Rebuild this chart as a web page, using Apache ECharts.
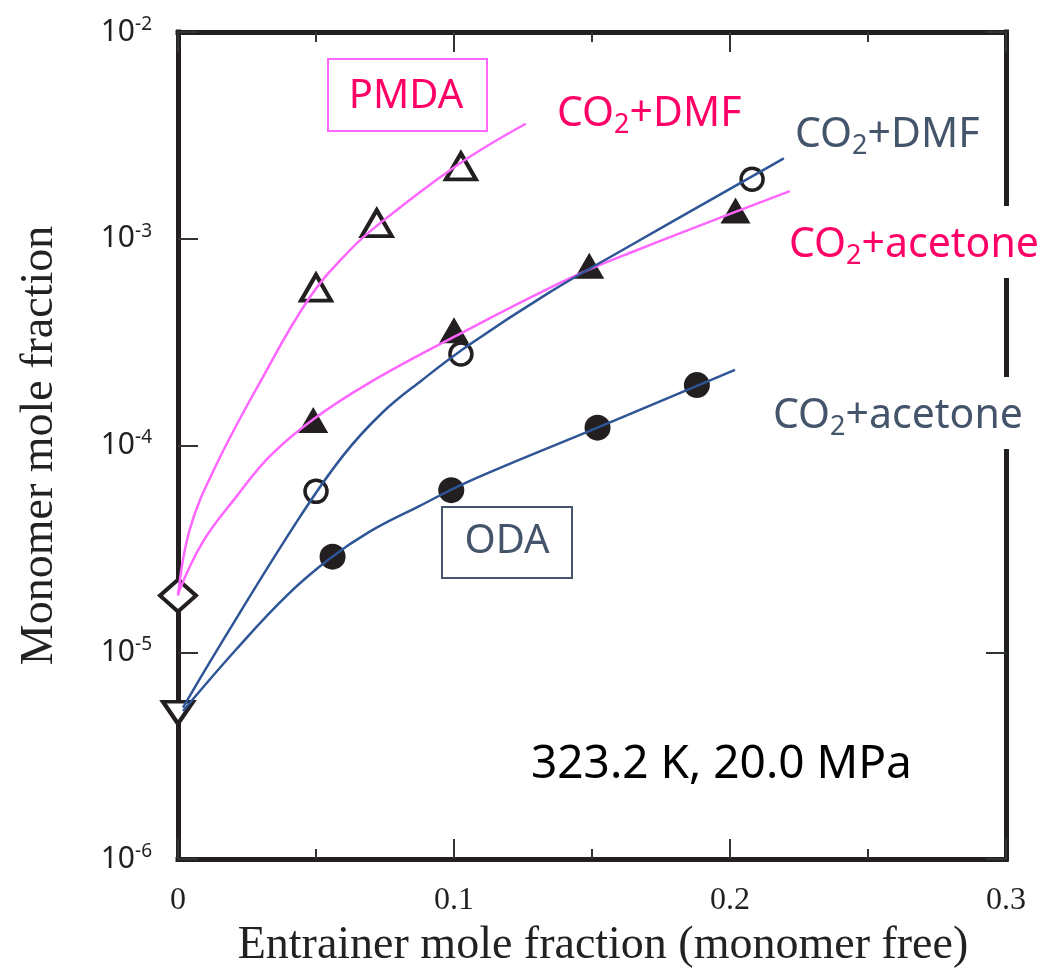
<!DOCTYPE html>
<html>
<head>
<meta charset="utf-8">
<script src="https://cdn.jsdelivr.net/npm/echarts@6/dist/echarts.min.js"></script>
<style>
  html, body { margin: 0; padding: 0; background: #fff; }
  #chart { width: 1041px; height: 974px; }
</style>
</head>
<body>
<div id="chart"></div>
<script>
// measured points
const pmdaDmfX = [0.050, 0.072, 0.1025];
const pmdaDmfY = [5.8e-4, 1.19e-3, 2.24e-3];
const pmdaAceX = [0.049, 0.100, 0.149, 0.202];
const pmdaAceY = [1.33e-4, 3.61e-4, 7.4e-4, 1.37e-3];
const odaDmfX = [0.050, 0.1025, 0.208];
const odaDmfY = [6.0e-5, 2.77e-4, 1.94e-3];
const odaAceX = [0.056, 0.099, 0.152, 0.188];
const odaAceY = [2.9e-5, 6.08e-5, 1.22e-4, 1.96e-4];
// pure CO2 (x = 0)
const pmdaPureY = 1.88e-5;
const odaPureY = 5.1e-6;

// correlation curves
const fitPmdaDmfX = [0.0, 0.0043, 0.0134, 0.0296, 0.0477, 0.0621, 0.0729, 0.1018, 0.126];
const fitPmdaDmfY = [1.88e-5, 3.94e-5, 7.83e-5, 2.01e-4, 5.2e-4, 8.75e-4, 1.18e-3, 2.30e-3, 3.6e-3];
const fitPmdaAceX = [0.0, 0.009, 0.0213, 0.0332, 0.0487, 0.0693, 0.1018, 0.1426, 0.1657, 0.2217];
const fitPmdaAceY = [1.92e-5, 3.42e-5, 5.69e-5, 8.86e-5, 1.33e-4, 2.01e-4, 3.45e-4, 6.5e-4, 8.75e-4, 1.70e-3];
const fitOdaDmfX = [0.0018, 0.0152, 0.0430, 0.0596, 0.0740, 0.0884, 0.1054, 0.134, 0.1606, 0.2195];
const fitOdaDmfY = [5.4e-6, 1.08e-5, 4.27e-5, 8.86e-5, 1.44e-4, 2.07e-4, 3.06e-4, 5.44e-4, 8.75e-4, 2.45e-3];
const fitOdaAceX = [0.0018, 0.0213, 0.0394, 0.0549, 0.0693, 0.0874, 0.1054, 0.152, 0.2018];
const fitOdaAceY = [5.2e-6, 1.04e-5, 1.88e-5, 2.83e-5, 3.82e-5, 5.09e-5, 6.71e-5, 1.22e-4, 2.32e-4];

const xTicks = [0, 0.1, 0.2, 0.3];

const zip = (xs, ys) => xs.map((x, i) => [x, ys[i]]);

const frame = '#231f20';
const pink = '#ff66ff';
const navy = '#2e5596';
const pinkText = '#ff0066';
const navyText = '#44546a';

let chart = echarts.init(document.getElementById('chart'));

const axisLine = { show: true, onZero: false, lineStyle: { color: frame, width: 5, cap: 'square' } };
const tick = { show: true, inside: true, length: 20, lineStyle: { color: '#333', width: 2 } };
const minor = { show: true, splitNumber: 2, length: 10, lineStyle: { color: '#333', width: 2 } };

// "CO2+..." label with subscript, optional white box that hides the frame behind it
const subLabel = (x, y, main, color, bg) => ({
    type: 'text',
    x: x, y: y, z: 100,
    style: {
        text: '{a|CO}{s|2}{a|' + main + '}',
        fill: color,
        backgroundColor: bg ? '#fff' : null,
        padding: bg ? [14, 4, 8, 4] : 0,
        rich: {
            a: { fontSize: 41, fontFamily: 'Noto Sans', lineHeight: 50, fill: color },
            s: { fontSize: 27, fontFamily: 'Noto Sans', lineHeight: 15, verticalAlign: 'bottom', fill: color }
        }
    }
});

const line = (xs, ys, color) => ({
    type: 'line', data: zip(xs, ys), smooth: 0.4, showSymbol: false,
    lineStyle: { color: color, width: 2.5 }
});

let option = {
    animation: false,
    backgroundColor: '#fff',
    grid: { left: 178, right: 35, top: 32, bottom: 112 },
    xAxis: [
        {
            type: 'value', min: 0, max: 0.3, interval: 0.1, position: 'bottom',
            axisLine: axisLine, axisTick: tick, minorTick: minor, splitLine: { show: false },
            axisLabel: {
                fontFamily: 'Liberation Serif', fontSize: 32, color: '#222', margin: 26,
                formatter: v => xTicks.includes(+v.toFixed(1)) ? (v === 0 ? '0' : v.toFixed(1)) : ''
            },
            name: 'Entrainer mole fraction (monomer free)',
            nameLocation: 'middle', nameGap: 64,
            nameTextStyle: { fontFamily: 'Liberation Serif', fontSize: 46, color: '#222', padding: [0, 0, 0, 22] }
        },
        {
            type: 'value', min: 0, max: 0.3, interval: 0.1, position: 'top',
            axisLine: axisLine, axisTick: tick, minorTick: minor, splitLine: { show: false },
            axisLabel: { show: false }
        }
    ],
    yAxis: [
        {
            type: 'log', logBase: 10, min: 1e-6, max: 1e-2, position: 'left',
            axisLine: axisLine, axisTick: tick, splitLine: { show: false },
            axisLabel: {
                margin: 26,
                formatter: v => '{b|10}{s|' + Math.round(Math.log10(v)) + '}',
                rich: {
                    b: { fontSize: 30, fontFamily: 'Noto Sans', color: '#231f20', lineHeight: 34 },
                    s: { fontSize: 19, fontFamily: 'Noto Sans', color: '#231f20', lineHeight: 18, verticalAlign: 'top' }
                }
            },
            name: 'Monomer mole fraction',
            nameLocation: 'middle', nameGap: 115,
            nameTextStyle: { fontFamily: 'Liberation Serif', fontSize: 46, color: '#222' }
        },
        {
            type: 'log', logBase: 10, min: 1e-6, max: 1e-2, position: 'right',
            axisLine: axisLine, axisTick: tick, splitLine: { show: false },
            axisLabel: { show: false }
        }
    ],
    series: [
        { name: 'PMDA CO2+DMF', type: 'scatter', data: zip(pmdaDmfX, pmdaDmfY), symbol: 'triangle', symbolSize: [30, 26],
          itemStyle: { color: '#fff', borderColor: frame, borderWidth: 4, opacity: 1 } },
        { name: 'PMDA CO2+acetone', type: 'scatter', data: zip(pmdaAceX, pmdaAceY), symbol: 'triangle', symbolSize: [30, 26],
          itemStyle: { color: frame, opacity: 1 } },
        { name: 'ODA CO2+DMF', type: 'scatter', data: zip(odaDmfX, odaDmfY), symbol: 'circle', symbolSize: 22,
          itemStyle: { color: '#fff', borderColor: frame, borderWidth: 3.5, opacity: 1 } },
        { name: 'ODA CO2+acetone', type: 'scatter', data: zip(odaAceX, odaAceY), symbol: 'circle', symbolSize: 26,
          itemStyle: { color: frame, opacity: 1 } },
        { name: 'PMDA CO2', type: 'scatter', data: [[0, pmdaPureY]], symbol: 'diamond', symbolSize: [36, 32], clip: false,
          itemStyle: { color: '#fff', borderColor: frame, borderWidth: 4, opacity: 1 } },
        { name: 'ODA CO2', type: 'scatter', data: [[0, odaPureY]], symbol: 'triangle', symbolRotate: 180, symbolSize: [30, 22], clip: false,
          itemStyle: { color: '#fff', borderColor: frame, borderWidth: 4, opacity: 1 } },
        line(fitPmdaDmfX, fitPmdaDmfY, pink),
        line(fitPmdaAceX, fitPmdaAceY, pink),
        line(fitOdaDmfX, fitOdaDmfY, navy),
        line(fitOdaAceX, fitOdaAceY, navy)
    ],
    graphic: [
        { type: 'rect', z: 100, shape: { x: 328, y: 59, width: 159, height: 72 },
          style: { fill: '#fff', stroke: pink, lineWidth: 2 } },
        { type: 'text', z: 101, x: 406, y: 97,
          style: { text: 'PMDA', fontSize: 40, fontFamily: 'Noto Sans', fill: pinkText, textAlign: 'center', textVerticalAlign: 'middle' } },
        { type: 'rect', z: 100, shape: { x: 442, y: 507, width: 130, height: 71 },
          style: { fill: '#fff', stroke: navyText, lineWidth: 2 } },
        { type: 'text', z: 101, x: 507, y: 542,
          style: { text: 'ODA', fontSize: 40, fontFamily: 'Noto Sans', fill: navyText, textAlign: 'center', textVerticalAlign: 'middle' } },
        subLabel(557, 89, '+DMF', pinkText, false),
        subLabel(795, 110, '+DMF', navyText, false),
        subLabel(785, 206, '+acetone', pinkText, true),
        subLabel(769, 377, '+acetone', navyText, true),
        { type: 'text', z: 101, x: 531, y: 765,
          style: { text: '323.2 K, 20.0 MPa', fontSize: 46, fontFamily: 'Noto Sans', fill: '#000', textVerticalAlign: 'middle' } }
    ]
};
chart.setOption(option);
</script>
</body>
</html>
